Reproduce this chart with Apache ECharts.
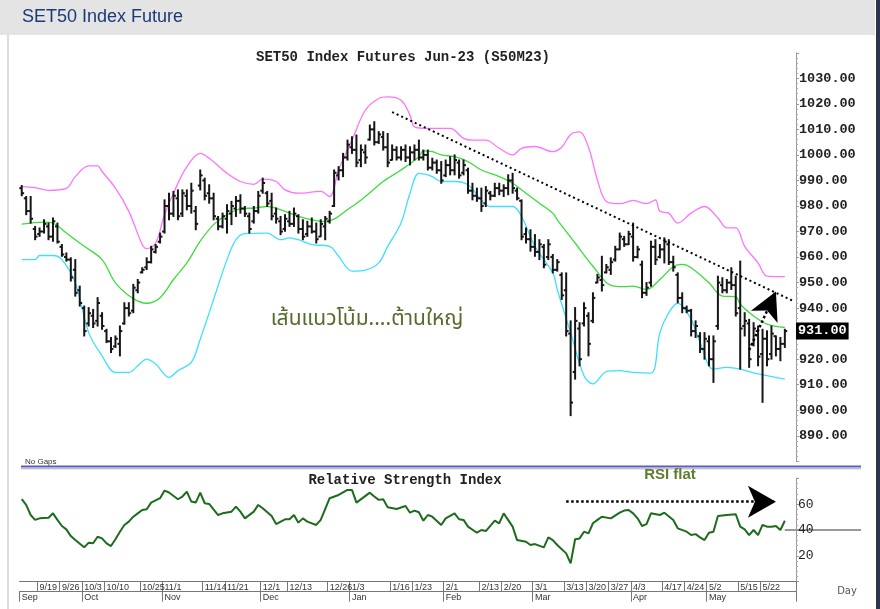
<!DOCTYPE html>
<html>
<head>
<meta charset="utf-8">
<title>SET50 Index Future</title>
<script src="https://cdn.jsdelivr.net/npm/echarts@6/dist/echarts.min.js"></script>
<style>
  html, body { margin: 0; padding: 0; background: #fff; }
  #main { width: 880px; height: 609px; }
</style>
</head>
<body>
<div id="main"></div>
<script>
// trading days (category axis)
const days = [
  '9/13','9/14','9/15','9/16','9/19','9/20','9/21','9/22','9/23','9/26','9/27','9/28','9/29','9/30',
  '10/3','10/4','10/5','10/6','10/7','10/10','10/11','10/12','10/17','10/18','10/19','10/20','10/21',
  '10/25','10/26','10/27','10/28','10/31',
  '11/1','11/2','11/3','11/4','11/7','11/8','11/9','11/10','11/11','11/14','11/15','11/16','11/17','11/18',
  '11/21','11/22','11/23','11/24','11/25','11/28','11/29','11/30',
  '12/1','12/2','12/6','12/7','12/8','12/9','12/13','12/14','12/15','12/16','12/19','12/20','12/21','12/22','12/23',
  '12/26','12/27','12/28','12/29','12/30',
  '1/3','1/4','1/5','1/6','1/9','1/10','1/11','1/12','1/13','1/16','1/17','1/18','1/19','1/20',
  '1/23','1/24','1/25','1/26','1/27','1/30','1/31',
  '2/1','2/2','2/3','2/6','2/7','2/8','2/9','2/10','2/13','2/14','2/15','2/16','2/17',
  '2/20','2/21','2/22','2/23','2/24','2/27','2/28',
  '3/1','3/2','3/3','3/7','3/8','3/9','3/10','3/13','3/14','3/15','3/16','3/17',
  '3/20','3/21','3/22','3/23','3/24','3/27','3/28','3/29','3/30','3/31',
  '4/3','4/4','4/5','4/7','4/10','4/11','4/12','4/17','4/18','4/19','4/20','4/21',
  '4/24','4/25','4/26','4/27','4/28',
  '5/2','5/3','5/8','5/9','5/10','5/11','5/12','5/15','5/16','5/17','5/18','5/19',
  '5/22','5/23','5/24','5/25','5/26','5/29','5/30','5/31'
];
const weekTicks = ['9/19','9/26','10/3','10/10','10/25','11/1','11/14','11/21','12/1','12/13','12/26',
  '1/3','1/16','1/23','2/1','2/13','2/20','3/1','3/13','3/20','3/27','4/3','4/17','4/24','5/2','5/15','5/22'];
const monthStarts = ['9/13','10/3','11/1','12/1','1/3','2/1','3/1','4/3','5/2'];
const monthNames = ['Sep','Oct','Nov','Dec','Jan','Feb','Mar','Apr','May'];

// daily bars: open, high, low, close
const bars = [
  [987,988,984,985],[983,983.7,976.6,978],[978,983.7,973.3,975],[971,972,966.8,968],[969,971.4,968.1,970],
  [970,974.6,969.4,973],[972,973.3,966.8,968],[968,975.3,966.2,974],[972,973.3,965.5,966],[964,964.9,960.3,961],
  [960,961.6,958.4,959],[959,959.7,950.6,952],[955,959,944.7,946],[947,948.6,940.8,942],[940,940.8,929.1,931],
  [934,940.2,933,938],[937,939.5,932.4,934],[935,944.1,933,942],[937,938.2,931.7,933],[931,931.7,926.5,927],
  [927,928.5,922.6,924],[925,929.1,924.6,928],[926,933,921.3,931],[934,942.1,933.7,940],[940,942.1,936.9,938],
  [939,949.3,938.2,948],[947,951.2,946,950],[954,955.8,953.8,955],[956,959.7,955.1,958],[958,964.2,957.7,963],
  [962,964.9,961.6,964],[966,969.4,965.5,968],[970,982.4,969.4,980],[980,985,974.6,977],[977,985.7,975.9,984],
  [983,986.3,974.6,976],[977,986.3,975.9,985],[984,986.3,978.5,980],[980,988.9,977.2,986],[978,979.8,970.7,973],
  [988,994.1,986.3,992],[990,990.9,982.4,984],[985,988.3,981.1,983],[983,985,974.6,976],[975,975.9,970.7,972],
  [972,977.2,971.4,976],[975,980.5,969.4,978],[977,981.8,972.7,980],[979,983.7,975.9,982],[982,984.4,977.2,979],
  [979,979.8,975.9,977],[976,977.2,969.4,971],[974,979.8,973.3,978],[978,985.7,977.2,984],[986,990.9,985,989],
  [985,985.7,979.8,981],[982,985,974.6,976],[977,979.2,973.3,975],[974,975.9,968.8,970],[971,976.6,970.1,975],
  [974,977.9,972,973],[973,979.2,972,977],[976,976.6,969.4,971],[971,974.6,966.8,968],[969,974,968.1,972],
  [972,975.3,969.4,970],[970,973.3,965.5,967],[968,974.6,968.1,973],[972,975.9,966.8,975],[974,977.9,973.3,977],
  [980,994.1,979.8,993],[992,995.4,990.2,994],[994,1000.6,991.5,999],[999,1005.8,998,1004],[1003,1007.1,1000.6,1002],
  [1002,1007.8,995.4,997],[998,1003.9,995.4,1002],[1001,1003.9,996.7,999],[1006,1011.7,1005.8,1010],[1010,1013,1003.9,1005],
  [1005,1009.1,1004.5,1008],[1007,1009.1,1001.9,1003],[1003,1008.4,995.4,997],[998,1003.9,998,1002],[1002,1003.2,998,999],
  [999,1003.2,998,1002],[1002,1003.9,997.4,999],[999,1003.2,996.1,1001],[1001,1003.9,998,1002],[1002,1005.8,998,999],
  [999,1001.9,998,1000],[1000,1001.9,994.1,995],[995,998.7,994.1,997],[997,998,992.8,994],[994,997.4,988.9,990],
  [992,998,991.5,996],[996,999.3,992.2,994],[994,1000,992.2,998],[997,998,990.9,992],[993,998,992.2,996],
  [994,994.8,985,986],[986,988.9,982.4,984],[984,987,981.8,983],[983,987,977.9,980],[981,987.6,979.8,986],
  [985,985.7,982.4,984],[984,988.9,983.7,987],[987,988.9,984.4,986],[986,988.3,983.7,987],[987,992.2,984.4,990],
  [990,992.8,985,987],[986,987,982.4,983],[982,982.4,966.8,968],[969,971.4,965.5,967],[967,970.7,962.3,964],
  [964,968.8,960.3,962],[962,966.8,959,965],[964,964.9,955.8,957],[960,966.8,959,965],[960,961,953.8,955],
  [955,959,954.5,958],[953,953.8,943.4,945],[947,953.8,929.1,931],[930,935,897.9,903],[915,940.2,912.2,935],
  [932,934.3,917.4,920],[934,942.1,933,940],[937,938.2,921.3,926],[935,946,934.3,944],[950,953.2,949.9,952],
  [951,960.3,946.7,949],[954,957.1,953.8,956],[955,959.7,953.2,958],[959,964.2,958.4,963],[963,969.4,962.9,968],
  [967,968.1,964.2,965],[965,970.1,964.9,969],[968,973.3,958.4,960],[960,964.2,959.7,963],[957,958.4,944.1,946],
  [946,950,945,948],[950,966.2,948.6,964],[964,966.8,957.1,959],[960,964.9,959.7,963],[963,967.5,957.7,966],
  [965,966.8,957.1,958],[958,960.3,954.5,956],[953,953.8,942.1,944],[944,946,938.2,940],[940,940.8,938.2,939],
  [939,939.5,929.1,931],[931,935,928.5,933],[929,930.4,922.6,924],[924,930.4,920,928],[927,929.1,917.4,920],
  [920,929.1,910.9,927],[933,952.5,931.7,950],[949,951.9,946,947],[947,951.2,946,950],[950,955.8,947.3,949],
  [949,952.5,936.9,938],[940,958.4,916.1,932],[933,938.2,929.1,935],[934,935.6,916.8,920],[926,934.3,925.2,932],
  [931,933,917.4,921],[922,931.7,903.1,928],[928,931.1,917.4,920],[922,933,920,930],[929,929.1,921.3,924],
  [924,928.5,919.4,926],[926,931.7,924.6,931]
];

// bollinger bands, [day index, price]
const upperBand = [[0,987.6],[3,987.2],[6,986.1],[10,986.9],[12,991.5],[15,995.7],[17,995.7],[18,993.5],[21,987.0],
  [24,977.9],[27,964.9],[28,963.3],[30,965.5],[32,976.6],[34,985.0],[37,995.4],[40,1000.6],[42,998.7],[46,992.8],
  [49,989.6],[52,988.5],[54,990.5],[57,989.6],[59,986.3],[62,985.0],[67,985.7],[69,983.7],[71,994.1],[74,1005.8],
  [77,1017.5],[80,1022.1],[82,1022.7],[85,1021.4],[87,1015.6],[88,1011.0],[91,1010.4],[96,1010.4],[99,1006.5],
  [101,1005.8],[104,1005.8],[107,1002.6],[110,1000.0],[112,1002.6],[115,1003.3],[119,1001.3],[121,1003],[123,1008],
  [125,1009],[127,1003],[129,990.2],[131,981.8],[134,980.9],[137,982.2],[140,980.9],[142,982.4],[143,977.9],
  [145,977.2],[147,973.3],[150,977.2],[153,979.8],[156,975.3],[158,971.4],[160,971.4],[162,964.2],[165,957.7],
  [167,952.5],[171,952.3]];
const midBand = [[0,972.9],[5,973.7],[7,973.3],[10,969.4],[14,964.2],[18,959.0],[21,949.9],[25,943.7],[28,941.9],
  [31,944.1],[34,951.2],[37,957.7],[40,966.2],[43,972.7],[46,976.6],[49,978.9],[52,979.2],[55,979.8],[59,977.9],
  [62,975.9],[68,973.9],[74,979.8],[77,983.7],[81,989.6],[85,994.1],[89,999.3],[90,1001.6],[92,1001.3],[94,1000.0],
  [97,999.3],[100,997.4],[103,994.1],[107,991.5],[110,988.9],[113,985.0],[116,981.1],[119,977.2],[120,974.6],
  [124,965.5],[128,956.4],[132,948.9],[135,948.4],[137,948.6],[140,947.3],[143,951.2],[146,956.2],[148,957.1],
  [150,955.8],[154,949.9],[157,944.7],[160,944.5],[161,941.5],[164,936.9],[167,933.7],[171,932.4]];
const lowerBand = [[0,959.0],[3,959.0],[4,960.6],[7,960.6],[9,959.0],[12,949.9],[15,930.4],[18,921.3],[21,914.8],
  [24,914.8],[26,917.4],[28,920.0],[30,918.1],[33,912.9],[35,915.5],[38,918.7],[40,927.8],[43,943.4],[46,959.0],
  [48,966.8],[50,969.2],[55,969.4],[58,966.8],[60,967.5],[62,966.8],[65,964.9],[69,964.2],[71,960.3],[74,954.5],
  [77,954.9],[80,957.7],[82,964.2],[85,973.3],[87,985.0],[89,992.8],[91,992.2],[92,991.5],[94,989.6],[97,989.6],
  [100,988.3],[103,982.4],[105,979.8],[110,979.8],[112,975.9],[115,964.2],[119,953.8],[120,947.3],[123,930.4],
  [126,913.5],[128,910.3],[131,915.1],[134,915.5],[137,914.8],[141,914.5],[143,930.4],[145,938.2],[147,941.9],
  [150,935.6],[152,926.5],[155,916.1],[158,916.8],[161,916.1],[165,914.2],[171,912.2]];

// RSI, [day index, value]
const rsi = [[0,63.8],[1,59.4],[2,51.6],[3,47.8],[4,49.0],[6,49.5],[7,52.9],[8,47.8],[9,43.1],[10,40.5],[11,35.3],
  [12,32.2],[14,26.6],[15,30.2],[16,29.7],[17,34.8],[18,33.5],[19,29.7],[20,27.6],[21,32.8],[22,38.7],[23,43.9],
  [24,46.5],[25,50.3],[26,52.9],[27,55.5],[28,56.0],[29,61.2],[31,64.6],[32,70.5],[33,69.0],[35,63.8],[36,65.9],
  [37,69.7],[38,62.0],[39,61.2],[40,68.9],[41,60.7],[42,60.2],[44,51.6],[45,52.9],[47,54.2],[48,58.1],[49,54.2],
  [50,49.0],[52,54.2],[53,59.4],[54,56.8],[56,50.8],[57,44.6],[59,48.3],[60,48.3],[61,51.6],[62,45.7],[63,49.0],
  [64,46.5],[66,43.9],[67,47.8],[69,64.6],[71,67.1],[73,71.0],[74,71.0],[75,61.2],[78,68.9],[79,65.9],[80,63.3],
  [81,63.8],[82,57.6],[84,56.3],[86,58.6],[87,53.4],[88,55.0],[89,53.7],[90,47.2],[91,51.6],[92,50.3],[94,43.9],
  [95,49.0],[97,52.9],[98,48.3],[99,47.8],[100,42.6],[102,37.9],[103,40.0],[104,39.2],[106,47.2],[107,45.2],
  [108,52.9],[110,42.6],[111,32.2],[113,30.9],[114,28.4],[115,29.1],[117,26.6],[118,34.3],[119,32.2],[120,28.4],
  [122,21.9],[123,14.2],[124,32.8],[125,33.5],[126,38.7],[127,37.4],[128,45.2],[129,47.8],[130,50.3],[132,49.0],
  [134,53.4],[135,55.0],[136,55.5],[137,52.9],[138,49.0],[139,43.1],[140,44.6],[141,52.9],[143,51.6],[144,53.4],
  [146,47.8],[147,41.3],[149,38.7],[150,36.1],[151,36.8],[152,34.3],[153,32.2],[154,37.9],[155,38.7],[156,50.8],
  [158,51.6],[160,52.2],[161,42.6],[162,40.5],[163,36.1],[164,40.0],[165,36.1],[166,43.9],[167,42.6],[168,42.6],
  [169,43.1],[170,40.0],[171,47.2]];

const lastPrice = 931;
const trendLine = [[83, 1016.8], [173, 942.7]];
const priceArrow = [[163, 923.6], [169, 946.5]];
const rsiArrow = [[122, 61.9], [169, 61.9]];

const chart = echarts.init(document.getElementById('main'), null, { renderer: 'canvas' });

const monoFont = 'Liberation Mono';

function renderBar(params, api) {
  const i = api.value(0);
  const o = api.coord([i, api.value(1)]);
  const h = api.coord([i, api.value(2)]);
  const l = api.coord([i, api.value(3)]);
  const c = api.coord([i, api.value(4)]);
  const x = h[0];
  const st = { stroke: '#161616', lineWidth: 2 };
  return {
    type: 'group',
    children: [
      { type: 'line', shape: { x1: x, y1: h[1] - 0.5, x2: x, y2: l[1] + 0.5 }, style: st },
      { type: 'line', shape: { x1: x - 2.4, y1: o[1], x2: x, y2: o[1] }, style: st },
      { type: 'line', shape: { x1: x, y1: c[1], x2: x + 2.4, y2: c[1] }, style: st }
    ]
  };
}

function bandSeries(name, data, color) {
  return {
    name: name,
    type: 'line',
    xAxisIndex: 0,
    yAxisIndex: 0,
    data: data,
    smooth: 0.35,
    symbol: 'none',
    z: 2,
    lineStyle: { color: color, width: 1.3 }
  };
}

const option = {
  animation: false,
  backgroundColor: '#fff',
  grid: [
    { left: 19.5, top: 52.8, width: 776.5, height: 408.5 },
    { left: 19.5, top: 478.3, width: 776.5, height: 103.4 }
  ],
  xAxis: [
    { gridIndex: 0, type: 'category', data: days, boundaryGap: true, show: false },
    {
      gridIndex: 1, type: 'category', data: days, boundaryGap: true,
      axisLine: { show: true, lineStyle: { color: '#777', width: 1 } },
      axisTick: { show: true, interval: (i, v) => weekTicks.includes(v), length: 10, lineStyle: { color: '#777' } },
      axisLabel: {
        interval: (i, v) => weekTicks.includes(v), align: 'left', margin: 1,
        fontFamily: 'Liberation Sans', fontSize: 9, color: '#333'
      },
      splitLine: { show: false }
    },
    {
      gridIndex: 1, type: 'category', data: days, boundaryGap: true, position: 'bottom', offset: 10,
      axisLine: { show: true, lineStyle: { color: '#777', width: 1 } },
      axisTick: { show: true, interval: (i, v) => monthStarts.includes(v), length: 10, lineStyle: { color: '#777' } },
      axisLabel: {
        interval: (i, v) => monthStarts.includes(v), align: 'left', margin: 1,
        fontFamily: 'Liberation Sans', fontSize: 9, color: '#333',
        formatter: v => monthNames[monthStarts.indexOf(v)] || ''
      },
      splitLine: { show: false }
    }
  ],
  yAxis: [
    {
      gridIndex: 0, type: 'value', position: 'right', min: 880, max: 1040, interval: 10,
      axisLine: { show: true, lineStyle: { color: '#999', width: 1 } },
      axisTick: { show: true, length: 3, lineStyle: { color: '#999' } },
      minorTick: { show: true, splitNumber: 5, length: 2, lineStyle: { color: '#aaa' } },
      splitLine: { show: false },
      axisLabel: {
        margin: 3, fontFamily: monoFont, fontWeight: 'bold', fontSize: 13.5, color: '#222',
        formatter: v => (v === 880 || v === 1040) ? '' : v.toFixed(2)
      }
    },
    {
      gridIndex: 1, type: 'value', position: 'right', min: 0, max: 80, interval: 20,
      axisLine: { show: true, lineStyle: { color: '#999', width: 1 } },
      axisTick: { show: true, length: 3, lineStyle: { color: '#999' } },
      minorTick: { show: true, splitNumber: 5, length: 2, lineStyle: { color: '#aaa' } },
      splitLine: { show: false },
      axisLabel: {
        margin: 2, fontFamily: monoFont, fontSize: 13, color: '#222',
        formatter: v => (v === 20 || v === 40 || v === 60) ? String(v) : ''
      }
    }
  ],
  series: [
    bandSeries('Upper', upperBand, '#ff73ff'),
    Object.assign(bandSeries('Middle', midBand, '#3ddc3d'), {
      // last traded price tag on the price axis
      markLine: {
        silent: true,
        symbol: ['none', 'none'],
        lineStyle: { color: 'rgba(0,0,0,0)', width: 1 },
        label: {
          show: true, position: 'end', distance: 0,
          formatter: lastPrice.toFixed(2),
          backgroundColor: '#000', color: '#fff', padding: [2, 2, 1, 2],
          fontFamily: monoFont, fontWeight: 'bold', fontSize: 13.5
        },
        data: [{ yAxis: lastPrice }]
      }
    }),
    bandSeries('Lower', lowerBand, '#3ee0ff'),
    {
      name: 'S50M23',
      type: 'custom',
      xAxisIndex: 0,
      yAxisIndex: 0,
      z: 3,
      renderItem: renderBar,
      encode: { x: 0, y: [1, 2, 3, 4] },
      data: bars.map((b, i) => [i, b[0], b[1], b[2], b[3]])
    },
    {
      name: 'trend',
      type: 'line',
      xAxisIndex: 0,
      yAxisIndex: 0,
      data: [],
      z: 4,
      markLine: {
        silent: true,
        symbol: ['none', 'none'],
        lineStyle: { color: '#000', width: 2, type: [2, 3] },
        label: { show: false },
        data: [[{ coord: trendLine[0] }, { coord: trendLine[1] }]]
      }
    },
    {
      name: 'up',
      type: 'line',
      xAxisIndex: 0,
      yAxisIndex: 0,
      data: [],
      z: 4,
      markLine: {
        silent: true,
        symbol: ['none', 'arrow'],
        symbolSize: [22, 28],
        lineStyle: { color: '#000', width: 2.5, type: [2.5, 2.5] },
        itemStyle: { color: '#000' },
        label: { show: false },
        data: [[{ coord: priceArrow[0] }, { coord: priceArrow[1] }]]
      }
    },
    {
      name: 'RSI',
      type: 'line',
      xAxisIndex: 1,
      yAxisIndex: 1,
      data: rsi,
      symbol: 'none',
      lineStyle: { color: '#1d6b1d', width: 2 },
      markLine: {
        silent: true,
        symbol: ['none', 'arrow'],
        symbolSize: [24, 28],
        lineStyle: { color: '#000', width: 2.5, type: [2.5, 2.5] },
        itemStyle: { color: '#000' },
        label: { show: false },
        data: [[{ coord: rsiArrow[0] }, { coord: rsiArrow[1] }]]
      }
    }
  ],
  graphic: [
    { type: 'rect', z: -10, shape: { x: 0, y: 0, width: 875, height: 35 }, style: { fill: '#e4e4e4' } },
    { type: 'rect', z: -10, shape: { x: 876, y: 0, width: 4, height: 609 }, style: { fill: '#2e3350' } },
    { type: 'rect', z: -10, shape: { x: 7, y: 35, width: 2, height: 574 }, style: { fill: '#dcdcdc' } },
    { type: 'text', x: 22, y: 17, style: { text: 'SET50 Index Future', fill: '#1b3a78', font: '18px "Liberation Sans"', verticalAlign: 'middle' } },
    { type: 'text', x: 403, y: 57, style: { text: 'SET50 Index Futures Jun-23 (S50M23)', fill: '#222', font: 'bold 14px "Liberation Mono"', align: 'center', verticalAlign: 'middle' } },
    { type: 'text', x: 367, y: 321, style: { text: 'เส้นแนวโน้ม....ต้านใหญ่', fill: '#566b2c', font: '21px "Noto Sans Thai", "Noto Serif Thai", Tahoma, "Noto Sans", sans-serif', align: 'center', verticalAlign: 'middle' } },
    { type: 'text', x: 25, y: 462, style: { text: 'No Gaps', fill: '#333', font: '8px "Liberation Sans"', verticalAlign: 'middle' } },
    { type: 'line', shape: { x1: 21, y1: 466.5, x2: 861, y2: 466.5 }, style: { stroke: '#5b5bc9', lineWidth: 2 } },
    { type: 'line', shape: { x1: 21, y1: 468.8, x2: 861, y2: 468.8 }, style: { stroke: '#aaa', lineWidth: 1 } },
    { type: 'text', x: 405, y: 480, style: { text: 'Relative Strength Index', fill: '#222', font: 'bold 14px "Liberation Mono"', align: 'center', verticalAlign: 'middle' } },
    { type: 'text', x: 670, y: 475, style: { text: 'RSI flat', fill: '#5e7d2f', font: 'bold 15px "Liberation Sans"', align: 'center', verticalAlign: 'middle' } },
    { type: 'text', x: 847, y: 591, style: { text: 'Day', fill: '#555', font: '10px "DejaVu Sans"', align: 'center', verticalAlign: 'middle' } }
  ]
};

chart.setOption(option);

// level line at RSI 40, from the last reading out past the axis
const lastRsi = rsi[rsi.length - 1];
const p40 = chart.convertToPixel({ gridIndex: 1 }, [lastRsi[0], 40]);
option.graphic.push({
  type: 'line',
  shape: { x1: p40[0], y1: p40[1], x2: 861, y2: p40[1] },
  style: { stroke: '#333', lineWidth: 1 }
});
chart.setOption({ graphic: option.graphic });
</script>
</body>
</html>
